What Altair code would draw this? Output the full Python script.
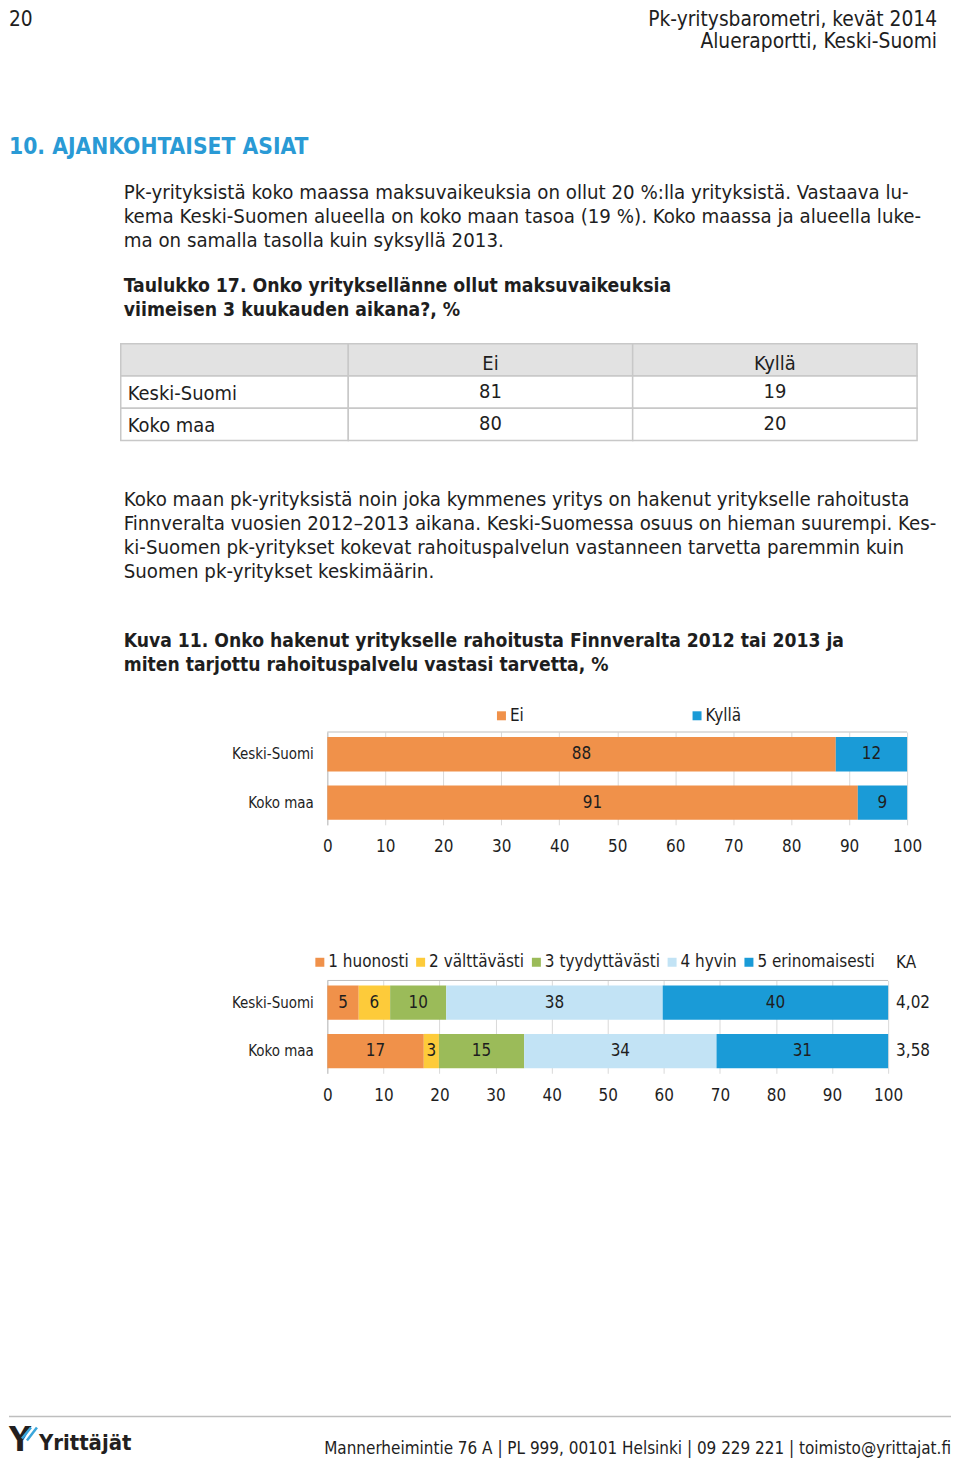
import altair as alt
import pandas as pd

FONT = "DejaVu Sans Condensed, DejaVu Sans"
TXT = "#1e1e1e"
W = 944

# ---------------- texts ----------------
header_left = "20"
header_right = ["Pk-yritysbarometri, kevät 2014", "Alueraportti, Keski-Suomi"]
section_title = "10. AJANKOHTAISET ASIAT"
para1 = [
    "Pk-yrityksistä koko maassa maksuvaikeuksia on ollut 20 %:lla yrityksistä. Vastaava lu-",
    "kema Keski-Suomen alueella on koko maan tasoa (19 %). Koko maassa ja alueella luke-",
    "ma on samalla tasolla kuin syksyllä 2013.",
]
table_title = [
    "Taulukko 17. Onko yrityksellänne ollut maksuvaikeuksia",
    "viimeisen 3 kuukauden aikana?, %",
]
para2 = [
    "Koko maan pk-yrityksistä noin joka kymmenes yritys on hakenut yritykselle rahoitusta",
    "Finnveralta vuosien 2012–2013 aikana. Keski-Suomessa osuus on hieman suurempi. Kes-",
    "ki-Suomen pk-yritykset kokevat rahoituspalvelun vastanneen tarvetta paremmin kuin",
    "Suomen pk-yritykset keskimäärin.",
]
fig_title = [
    "Kuva 11. Onko hakenut yritykselle rahoitusta Finnveralta 2012 tai 2013 ja",
    "miten tarjottu rahoituspalvelu vastasi tarvetta, %",
]
footer_text = "Mannerheimintie 76 A | PL 999, 00101 Helsinki | 09 229 221 | toimisto@yrittajat.fi"
logo_text = "Yrittäjät"

# ---------------- table data ----------------
table_rows = ["Keski-Suomi", "Koko maa"]
table_cols = ["Ei", "Kyllä"]
table_ei = [81, 80]
table_kylla = [19, 20]

# ---------------- chart 1 data ----------------
cats = ["Keski-Suomi", "Koko maa"]
c1_series = ["Ei", "Kyllä"]
c1_ei = [87.7, 91.5]
c1_kylla = [12.3, 8.5]
c1_ei_lbl = ["88", "91"]
c1_kylla_lbl = ["12", "9"]
c1_colors = ["#F0914A", "#1A9BD7"]

# ---------------- chart 2 data ----------------
c2_series = ["1 huonosti", "2 välttävästi", "3 tyydyttävästi", "4 hyvin", "5 erinomaisesti"]
c2_ks = [5.6, 5.6, 10.0, 38.6, 40.2]
c2_km = [17.2, 2.7, 15.2, 34.3, 30.6]
c2_ks_lbl = ["5", "6", "10", "38", "40"]
c2_km_lbl = ["17", "3", "15", "34", "31"]
c2_ka = ["4,02", "3,58"]
c2_colors = ["#F0914A", "#FDCB3A", "#9BBB59", "#C2E3F5", "#1A9BD7"]

ticks = [0, 10, 20, 30, 40, 50, 60, 70, 80, 90, 100]

dummy = pd.DataFrame({"k": [0]})


def txt(s, x, y, size, bold=False, color=TXT, align="left"):
    # single line, y is the alphabetic baseline
    return alt.Chart(dummy).mark_text(
        text=s, align=align, baseline="alphabetic", font=FONT, fontSize=size,
        fontWeight="bold" if bold else "normal", color=color,
    ).encode(x=alt.value(x), y=alt.value(y))


def lines(ls, x, y0, size, lh=24, **kw):
    return [txt(s, x, y0 + i * lh, size, **kw) for i, s in enumerate(ls)]


# ---------------- section A1 (page y 8..343) ----------------
A1 = alt.layer(
    txt(header_left, 0, 17, 20.8),
    txt(header_right[0], 930, 17, 20.8, align="right"),
    txt(header_right[1], 930, 39, 20.8, align="right"),
    txt(section_title, 0, 145, 22.7, bold=True, color="#2A9AD5"),
    *lines(para1, 115, 190, 20.3),
    *lines(table_title, 115, 283, 19.3, bold=True),
).properties(width=W, height=335)

# ---------------- table (page y 343..440) ----------------
rowdom = ["_h"] + table_rows
cells = []
for c in table_cols:
    cells.append({"row": "_h", "col": c, "text": c, "kind": "h"})
for i, r in enumerate(table_rows):
    cells.append({"row": r, "col": "Ei", "text": str(table_ei[i]), "kind": "b"})
    cells.append({"row": r, "col": "Kyllä", "text": str(table_kylla[i]), "kind": "b"})
cells = pd.DataFrame(cells)
labels = pd.DataFrame({"row": rowdom, "text": [""] + table_rows, "kind": ["h"] + ["b"] * len(table_rows)})

tx = alt.X("col:N", scale=alt.Scale(domain=table_cols, range=[340, 910], paddingInner=0, paddingOuter=0), axis=None)
ty = alt.Y("row:N", scale=alt.Scale(domain=rowdom, paddingInner=0, paddingOuter=0), axis=None)
tfill = alt.Fill("kind:N", scale=alt.Scale(domain=["h", "b"], range=["#E2E2E2", "#FFFFFF"]), legend=None)

T = alt.layer(
    alt.Chart(labels).mark_rect(stroke="#C8C8C8", strokeWidth=1.5).encode(
        x=alt.value(112), x2=alt.value(340), y=ty, fill=tfill),
    alt.Chart(cells).mark_rect(stroke="#C8C8C8", strokeWidth=1.5).encode(x=tx, y=ty, fill=tfill),
    alt.Chart(cells).transform_filter("datum.kind == 'h'").mark_text(
        font=FONT, fontSize=20, color=TXT, baseline="middle", dy=4).encode(x=tx, y=ty, text="text:N"),
    alt.Chart(cells).transform_filter("datum.kind == 'b'").mark_text(
        font=FONT, fontSize=20, color=TXT, baseline="middle", dy=0).encode(x=tx, y=ty, text="text:N"),
    alt.Chart(labels).mark_text(font=FONT, fontSize=20, color=TXT, baseline="middle", align="left", dy=2).encode(
        x=alt.value(119), y=ty, text="text:N"),
).properties(width=W, height=97)

# ---------------- section A2 (page y 440..732) ----------------
A2 = alt.layer(
    *lines(para2, 115, 66, 20.3),
    *lines(fig_title, 115, 207, 19.2, bold=True),
).properties(width=W, height=292)


# ---------------- bar charts ----------------
def bar_chart(values_by_cat, labels_by_cat, series, colors, xr, legend_x, legend_y, col_pad, extra=None):
    rows = []
    for ci, cat in enumerate(cats):
        for si, s in enumerate(series):
            rows.append({"cat": cat, "series": s, "value": values_by_cat[ci][si],
                         "label": labels_by_cat[ci][si], "ord": si})
    df = pd.DataFrame(rows)
    xscale = alt.Scale(domain=[0, 100], range=xr, nice=False)
    yscale = alt.Scale(domain=cats, paddingInner=0.29, paddingOuter=0.104)
    xaxis = alt.Axis(values=ticks, grid=True, gridColor="#D9D9D9", gridWidth=1, domain=False, ticks=False,
                     labelFont=FONT, labelFontSize=17, labelColor=TXT, labelPadding=14,
                     labelFlush=False, labelOverlap=False, title=None)
    yaxis = alt.Axis(title=None, offset=-xr[0], domainColor="#BFBFBF", domainWidth=1, ticks=False, grid=False,
                     labelFont=FONT, labelFontSize=15, labelColor=TXT, labelPadding=14)
    bars = alt.Chart(df).mark_bar().encode(
        x=alt.X("value:Q", stack="zero", scale=xscale, axis=xaxis),
        y=alt.Y("cat:N", scale=yscale, axis=yaxis),
        color=alt.Color("series:N", scale=alt.Scale(domain=series, range=colors),
                        legend=alt.Legend(orient="none", legendX=legend_x, legendY=legend_y,
                                          direction="horizontal", title=None, symbolType="square",
                                          symbolSize=81, symbolStrokeWidth=0, labelFont=FONT,
                                          labelFontSize=17, labelColor=TXT, columnPadding=col_pad,
                                          labelOffset=0, padding=0)),
        order=alt.Order("ord:Q"),
    )
    lbl = alt.Chart(df).transform_stack(
        stack="value", groupby=["cat"], as_=["v0", "v1"], sort=[alt.SortField(field="ord", order="ascending")]
    ).transform_calculate(mid="(datum.v0 + datum.v1) / 2").mark_text(
        font=FONT, fontSize=17, color=TXT, baseline="middle"
    ).encode(
        x=alt.X("mid:Q", scale=xscale, axis=xaxis),
        y=alt.Y("cat:N", scale=yscale, axis=yaxis),
        text="label:N",
    )
    top = alt.Chart(dummy).mark_rule(color="#BFBFBF", strokeWidth=1).encode(
        x=alt.XDatum(datum=0, scale=xscale, axis=xaxis), x2=alt.datum(100), y=alt.value(0))
    layers = [bars, lbl, top]
    if extra is not None:
        layers += extra(xscale, yscale, xaxis, yaxis)
    return alt.layer(*layers).properties(width=W, height=93)


C1 = bar_chart([[c1_ei[0], c1_kylla[0]], [c1_ei[1], c1_kylla[1]]],
               [[c1_ei_lbl[0], c1_kylla_lbl[0]], [c1_ei_lbl[1], c1_kylla_lbl[1]]],
               c1_series, c1_colors, [319, 900], 485, -25, 165)


def ka_layers(xscale, yscale, xaxis, yaxis):
    ka_df = pd.DataFrame({"cat": cats, "ka": c2_ka})
    vals = alt.Chart(ka_df).mark_text(font=FONT, fontSize=17, color=TXT, align="left", dx=8,
                                      baseline="middle").encode(
        x=alt.XDatum(datum=100, scale=xscale, axis=xaxis),
        y=alt.Y("cat:N", scale=yscale, axis=yaxis),
        text="ka:N")
    head = alt.Chart(dummy).mark_text(text="KA", font=FONT, fontSize=17, color=TXT, align="left", dx=8,
                                      baseline="middle").encode(
        x=alt.XDatum(datum=100, scale=xscale, axis=xaxis), y=alt.value(-18))
    return [vals, head]


C2 = bar_chart([c2_ks, c2_km], [c2_ks_lbl, c2_km_lbl], c2_series, c2_colors, [319, 881], 303, -27, 3,
               extra=ka_layers)

SP = alt.Chart(dummy).mark_text(text=" ").encode(x=alt.value(0), y=alt.value(10)).properties(width=W, height=156)

# ---------------- footer (page y 1074..1460) ----------------
F = alt.layer(
    alt.Chart(dummy).mark_rule(color="#BEBEBE", strokeWidth=1.5).encode(
        x=alt.value(0), x2=alt.value(W), y=alt.value(344)),
    txt(footer_text, 944, 382, 17, align="right"),
    txt("Y", 0, 379, 34, bold=True, color="#231F20"),
    alt.Chart(dummy).mark_rule(color="#3AA6DB", strokeWidth=2.5).encode(
        x=alt.value(22), y=alt.value(355), x2=alt.value(13), y2=alt.value(366)),
    alt.Chart(dummy).mark_rule(color="#3AA6DB", strokeWidth=2.5).encode(
        x=alt.value(28), y=alt.value(355), x2=alt.value(18), y2=alt.value(368)),
    txt(logo_text, 30, 378, 22, bold=True, color="#231F20"),
).properties(width=W, height=386)

chart = alt.vconcat(A1, T, A2, C1, SP, C2, F, spacing=0, bounds="flush").resolve_scale(
    color="independent", fill="independent", x="independent", y="independent"
).resolve_legend(color="independent").properties(padding=0, background="white").configure_view(strokeWidth=0)

chart.save("out.html", embed_options={"renderer": "svg", "actions": False})
